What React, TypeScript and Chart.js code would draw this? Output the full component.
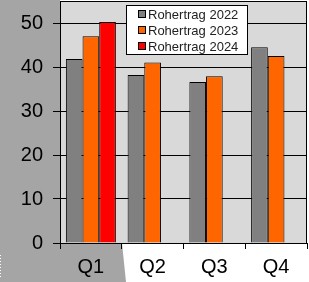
import React, { useEffect, useRef } from "react";
import { Chart, registerables } from "chart.js";

Chart.register(...registerables);

const categories = ["Q1", "Q2", "Q3", "Q4"];
const seriesLabels = ["Rohertrag 2022", "Rohertrag 2023", "Rohertrag 2024"];
const values2022 = [41.8, 38.2, 36.6, 44.5];
const values2023 = [47.0, 41.0, 37.9, 42.5];
const values2024 = [50.2, null, null, null];
const yTicks = [0, 10, 20, 30, 40, 50];
const colors = ["#808080", "#FF6600", "#FF0000"];

const FONT = "Arial, 'Liberation Sans', sans-serif";

const bgPlugin = {
  id: "bgPlugin",
  beforeDraw(chart: any) {
    const { ctx, chartArea, width, height } = chart;
    ctx.save();
    ctx.fillStyle = "#ffffff";
    ctx.fillRect(0, 0, width, height);
    ctx.fillStyle = "#A5A5A5";
    ctx.beginPath();
    ctx.moveTo(0, 0);
    ctx.lineTo(chartArea.left, 0);
    ctx.lineTo(chartArea.left, chartArea.bottom);
    ctx.lineTo(chartArea.left + 62, chartArea.bottom);
    ctx.lineTo(chartArea.left + 66, height);
    ctx.lineTo(0, height);
    ctx.closePath();
    ctx.fill();
    ctx.strokeStyle = "#ffffff";
    ctx.setLineDash([1, 2]);
    ctx.beginPath();
    ctx.moveTo(0.5, 255);
    ctx.lineTo(0.5, 277);
    ctx.stroke();
    ctx.setLineDash([]);
    ctx.fillStyle = "#D9D9D9";
    ctx.fillRect(chartArea.left, chartArea.top, chartArea.right - chartArea.left, chartArea.bottom - chartArea.top);
    ctx.restore();
  },
  afterDraw(chart: any) {
    const { ctx, chartArea } = chart;
    ctx.save();
    ctx.strokeStyle = "#000";
    ctx.lineWidth = 1;
    ctx.strokeRect(Math.round(chartArea.left) + 0.5, Math.round(chartArea.top) + 0.5,
      Math.round(chartArea.right - chartArea.left) - 1, Math.round(chartArea.bottom - chartArea.top));
    // legend
    const lx = Math.round(chartArea.left) + 66;
    const ly = Math.round(chartArea.top) + 4;
    const lw = 121;
    const lh = 49;
    ctx.fillStyle = "#fff";
    ctx.fillRect(lx, ly, lw, lh);
    ctx.strokeRect(lx + 0.5, ly + 0.5, lw, lh);
    ctx.font = `13px ${FONT}`;
    ctx.textBaseline = "middle";
    ctx.textAlign = "left";
    chart.data.datasets.forEach((ds: any, i: number) => {
      const cy = ly + 9 + i * 16;
      ctx.fillStyle = ds.backgroundColor;
      ctx.fillRect(lx + 12, cy - 4, 8, 8);
      ctx.strokeRect(lx + 12.5, cy - 3.5, 7, 7);
      ctx.fillStyle = "#222";
      ctx.fillText(ds.label, lx + 22, cy + 1);
    });
    ctx.restore();
  },
};

function zeroPad(scale: any) {
  scale.paddingTop = 0;
  scale.paddingBottom = 0;
  scale.paddingLeft = 0;
  scale.paddingRight = 0;
}

export default function App() {
  const ref = useRef<HTMLCanvasElement>(null);
  useEffect(() => {
    document.body.style.margin = "0";
    const data = [values2022, values2023, values2024];
    const chart = new Chart(ref.current!, {
      type: "bar",
      data: {
        labels: categories,
        datasets: seriesLabels.map((l, i) => ({
          label: l,
          data: data[i],
          backgroundColor: colors[i],
          borderColor: "#000",
          borderWidth: 1,
          categoryPercentage: 0.81,
          barPercentage: 1,
        })),
      },
      options: {
        animation: false,
        responsive: false,
        maintainAspectRatio: false,
        layout: { padding: { top: 1, right: 2, left: 0, bottom: 0 } },
        plugins: { legend: { display: false }, tooltip: { enabled: false } },
        scales: {
          x: {
            grid: { display: true, drawOnChartArea: false, drawTicks: true, tickLength: 6, color: "#000", offset: true },
            border: { color: "#000" },
            ticks: { color: "#000", font: { family: FONT, size: 20 }, padding: 6 },
            afterFit(scale: any) { scale.height = 39; zeroPad(scale); },
          },
          y: {
            min: 0,
            max: 55,
            afterBuildTicks(scale: any) { scale.ticks = yTicks.map((v) => ({ value: v })); },
            grid: { color: "#000", tickLength: 7 },
            border: { color: "#000" },
            ticks: { color: "#000", font: { family: FONT, size: 20 }, padding: 10 },
            afterFit(scale: any) { scale.width = 60; zeroPad(scale); },
          },
        },
      },
      plugins: [bgPlugin],
    });
    return () => chart.destroy();
  }, []);
  return (
    <div style={{ width: 309, height: 282 }}>
      <canvas ref={ref} width={309} height={282} style={{ display: "block" }} />
    </div>
  );
}
